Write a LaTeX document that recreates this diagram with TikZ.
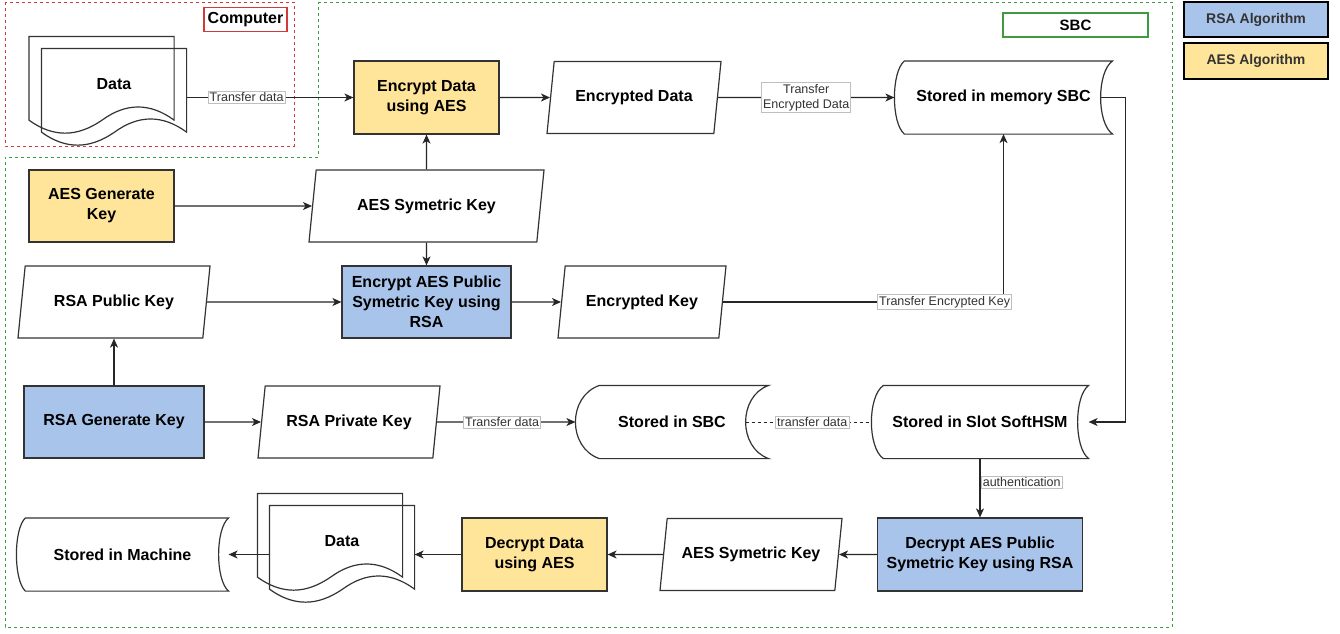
\documentclass[tikz,border=0pt]{standalone}
\usepackage{fontspec}
\setmainfont{Liberation Sans}
\usetikzlibrary{arrows.meta, positioning, shapes.geometric}
\definecolor{rsablue}{HTML}{A9C4EB}
\definecolor{aesyellow}{HTML}{FFE599}
\definecolor{pcred}{HTML}{D03A3A}
\definecolor{sbcgreen}{HTML}{3F9B3F}
\definecolor{inkgray}{HTML}{333333}

\newcommand{\storedoutline}[3]{%
  \draw[draw=inkgray] ([xshift=#2pt]#1.north west) -- (#1.north east)
    .. controls ([xshift=-1.333*#3pt, yshift=-11pt]#1.north east) and ([xshift=-1.333*#3pt, yshift=11pt]#1.south east) .. (#1.south east)
    -- ([xshift=#2pt]#1.south west)
    .. controls ([xshift=-0.333*#2pt, yshift=11pt]#1.south west) and ([xshift=-0.333*#2pt, yshift=-11pt]#1.north west) .. cycle;}
\newcommand{\docoutline}[1]{%
  \draw[draw=inkgray] (#1.north west) -- (#1.north east) -- ([yshift=14.5pt]#1.south east)
    .. controls ([xshift=-24pt, yshift=32pt]#1.south east) and ([xshift=-48pt, yshift=32pt]#1.south east) .. ([xshift=-72pt, yshift=14.5pt]#1.south east)
    .. controls ([xshift=48pt, yshift=-2.9pt]#1.south west) and ([xshift=24pt, yshift=-2.9pt]#1.south west) .. ([yshift=14.5pt]#1.south west) -- cycle;}

\begin{document}
\begin{tikzpicture}[x=1pt, y=-1pt, >={Stealth[length=9pt, width=8pt, inset=2.5pt]}, line width=1.2pt,
    boxfont/.style={font=\fontsize{16}{20}\selectfont\bfseries},
    procbox/.style={draw=inkgray, boxfont, minimum height=73pt, align=center, inner sep=2pt},
    iobox/.style={draw=inkgray, boxfont, trapezium, trapezium left angle=71.6, trapezium right angle=108.4, trapezium stretches body, minimum height=72pt, inner xsep=0pt},
    storebox/.style={boxfont, minimum height=72pt, inner sep=0pt},
    docbox/.style={boxfont, minimum width=144pt, minimum height=97pt, inner sep=0pt, text height=12pt, text depth=29pt},
    legbox/.style={draw=black, line width=1.5pt, minimum width=144pt, text=inkgray, font=\fontsize{14}{16}\selectfont\bfseries},
    lbl/.style={fill=white, draw=black!25, line width=0.6pt, solid, inner sep=1.5pt, text=inkgray, font=\fontsize{12.5}{15}\selectfont, align=center},
    link/.style={->, draw=black!85}]
    \fill[white] (0,0) rectangle (1340,633);
    \useasboundingbox (0,0) rectangle (1340,633);

    \draw[pcred, line width=1pt, dash pattern=on 3pt off 3pt] (5,2) rectangle (294,146);
    \draw[sbcgreen, line width=1pt, dash pattern=on 3pt off 3pt] (318,2) -- (1172,2) -- (1172,627) -- (5,627) -- (5,157) -- (318,157) -- cycle;
    \node[draw=pcred, minimum width=83pt, minimum height=24pt, inner sep=0pt, boxfont] (complabel) at (245.5,19.5) {Computer};
    \node[draw=sbcgreen, minimum width=145pt, minimum height=24pt, inner sep=0pt, font=\fontsize{15}{17}\selectfont\bfseries] (sbclabel) at (1075.5,25) {SBC};
    \node[legbox, fill=rsablue, minimum height=35pt] (rsaleg) at (1256,19.5) {RSA Algorithm};
    \node[legbox, fill=aesyellow, minimum height=36pt] (aesleg) at (1256,61) {AES Algorithm};

    \node[docbox] (datainback) at (101.5,85.5) {};
    \node[docbox] (datain) at (114,97.5) {Data};
    \node[procbox, fill=aesyellow, minimum width=145pt] (encaes) at (426.5,97.5) {Encrypt Data\\using AES};
    \node[iobox, minimum width=174pt] (encdata) at (634,97.5) {Encrypted Data};
    \node[storebox, minimum width=217pt] (mem) at (1003.5,97.5) {Stored in memory SBC};
    \node[procbox, fill=aesyellow, minimum width=145pt, minimum height=72pt] (aesgen) at (101.5,206) {AES Generate\\Key};
    \node[iobox, minimum width=235pt] (aeskey) at (426.5,206) {AES Symetric Key};
    \node[iobox, minimum width=192pt] (rsapub) at (114,302) {RSA Public Key};
    \node[procbox, fill=rsablue, minimum width=169pt, minimum height=72pt] (encrsa) at (426.5,302) {Encrypt AES Public\\Symetric Key using\\RSA};
    \node[iobox, minimum width=168pt] (enckey) at (642,302) {Encrypted Key};
    \node[procbox, fill=rsablue, minimum width=180pt, minimum height=72pt] (rsagen) at (114,422) {RSA Generate Key};
    \node[iobox, minimum width=182pt] (rsapriv) at (349,422) {RSA Private Key};
    \node[storebox, minimum width=192pt] (sbcstore) at (672,422) {Stored in SBC};
    \node[storebox, minimum width=216pt] (slot) at (980,422) {Stored in Slot SoftHSM};
    \node[procbox, fill=rsablue, minimum width=205pt] (decrsa) at (980,554.5) {Decrypt AES Public\\Symetric Key using RSA};
    \node[iobox, minimum width=182pt] (aeskeyb) at (751,554.5) {AES Symetric Key};
    \node[procbox, fill=aesyellow, minimum width=145pt] (decaes) at (534.5,554.5) {Decrypt Data\\using AES};
    \node[docbox] (dataoutback) at (330,542.5) {};
    \node[docbox] (dataout) at (342,554.5) {Data};
    \node[storebox, minimum width=211pt] (machine) at (122.5,554.5) {Stored in Machine};

    \docoutline{datainback}
    \docoutline{datain}
    \docoutline{dataoutback}
    \docoutline{dataout}
    \storedoutline{mem}{10}{12}
    \storedoutline{sbcstore}{24}{23}
    \storedoutline{slot}{12}{11}
    \storedoutline{machine}{9}{10}

    \draw[link] (datain) -- node[lbl, pos=0.36] (lbldata) {Transfer data} (encaes);
    \draw[link] (encaes) -- (encdata);
    \draw[link] (encdata.east) -- node[lbl] (lblencdata) {Transfer\\Encrypted Data} (mem);
    \draw[link] ([xshift=-12pt]mem.east) -- ++(25,0) |- (slot);
    \draw[link] (aesgen) -- (aeskey);
    \draw[link] (aeskey) -- (encaes);
    \draw[link] (aeskey) -- (encrsa);
    \draw[link] (rsapub) -- (encrsa);
    \draw[link] (encrsa) -- (enckey);
    \draw[link] (enckey.east) -- node[lbl, pos=0.79] (lblenckey) {Transfer Encrypted Key} (enckey.east -| mem.south) -- (mem.south);
    \draw[link] (rsagen) -- (rsapub);
    \draw[link] (rsagen) -- (rsapriv);
    \draw[link] (rsapriv) -- node[lbl, pos=0.47] (lblpriv) {Transfer data} (sbcstore);
    \draw[draw=black!85, line width=1pt, dash pattern=on 3pt off 3pt] ([xshift=-23pt]sbcstore.east) -- node[lbl, pos=0.53] (lblslot) {transfer data} (slot.west);
    \draw[link] (slot) -- node[lbl, pos=0.4, anchor=west, xshift=1pt] (lblauth) {authentication} (decrsa);
    \draw[link] (decrsa) -- (aeskeyb);
    \draw[link] (aeskeyb) -- (decaes);
    \draw[link] (decaes) -- (dataout);
    \draw[link] (dataout) -- (machine);
\end{tikzpicture}
\end{document}
